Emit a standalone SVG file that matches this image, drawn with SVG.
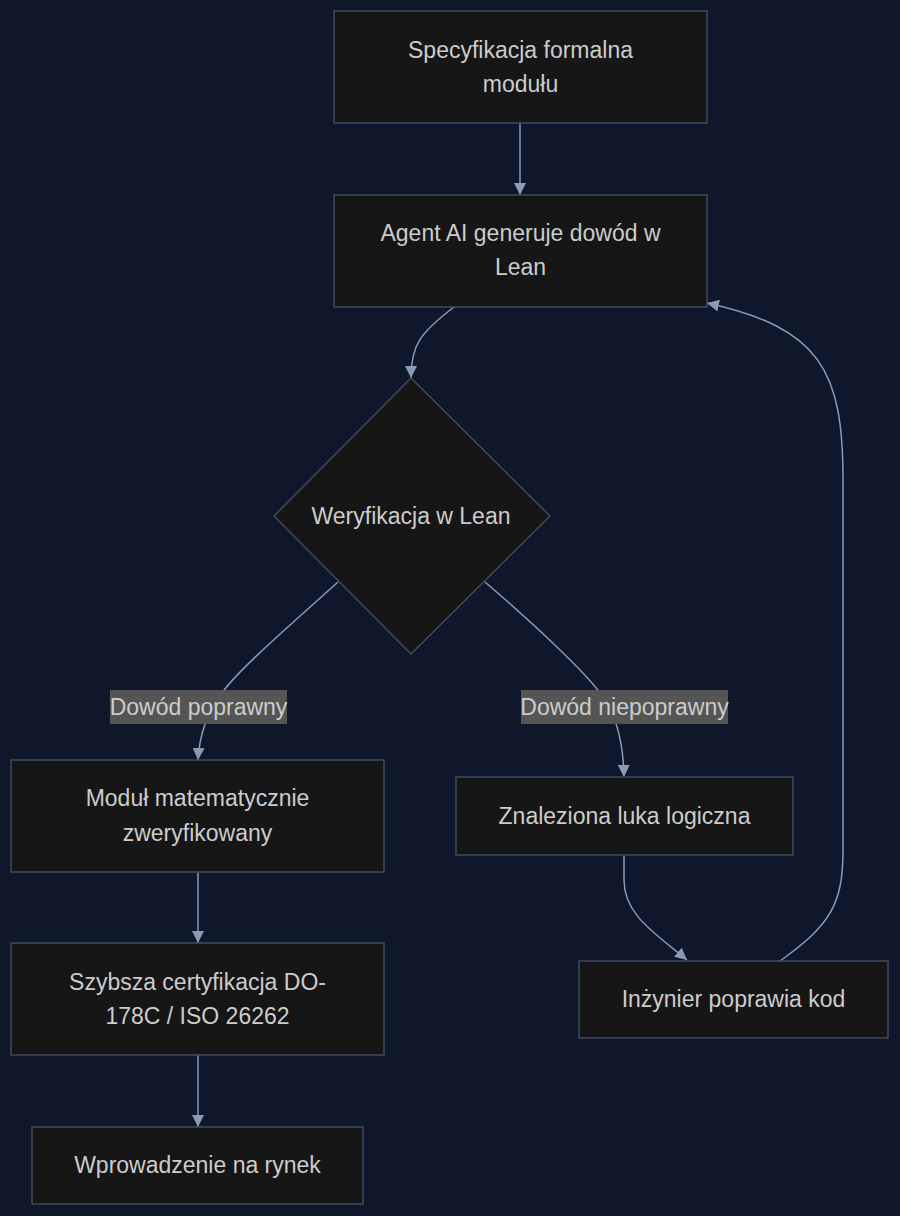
<svg xmlns="http://www.w3.org/2000/svg" width="900" height="1216" viewBox="0 0 900 1216">
<style>
.node rect, .node polygon { fill: #161616; stroke: #3e4b5e; stroke-width: 1.5; }
.node text, .elabel text { font-family: "Liberation Sans", Arial, sans-serif; font-size: 23px; fill: #cccccc; text-anchor: middle; dominant-baseline: central; }
.edges path { fill: none; stroke: #8a9bb4; stroke-width: 1.5; }
.elabel rect { fill: #555555; stroke: none; }
</style>
<defs>
<marker id="arrow" viewBox="0 0 10 10" refX="10" refY="5" markerWidth="12" markerHeight="12" markerUnits="userSpaceOnUse" orient="auto">
<path d="M0,0 L10,5 L0,10 z" fill="#8a9bb4"/>
</marker>
</defs>
<rect width="900" height="1216" fill="#0f172a"/>
<g class="edges">
<path d="M520,123 L520,195" marker-end="url(#arrow)"/>
<path d="M454,307 C420,333 411,345 411,378" marker-end="url(#arrow)"/>
<path d="M338,582 C290,625 236,672 222,693 Q200,722 198,760" marker-end="url(#arrow)"/>
<path d="M485,582 C535,625 585,672 600,693 Q623,722 624,777" marker-end="url(#arrow)"/>
<path d="M198,872 L198,943" marker-end="url(#arrow)"/>
<path d="M198,1055 L198,1127" marker-end="url(#arrow)"/>
<path d="M624,855 L624,880 C624,915 655,933 687,960" marker-end="url(#arrow)"/>
<path d="M780,961 C830,925 843,905 843,850 L843,480 C843,370 820,328 707,303" marker-end="url(#arrow)"/>
</g>
<g id="label-ok" class="elabel">
<rect x="110" y="690" width="177" height="34"/>
<text x="198.5" y="707">Dowód poprawny</text>
</g>
<g id="label-bad" class="elabel">
<rect x="521" y="690" width="207" height="34"/>
<text x="624.5" y="707">Dowód niepoprawny</text>
</g>
<g id="n1" class="node">
<rect x="334" y="11" width="373" height="112"/>
<text x="520.5" y="50">Specyfikacja formalna</text>
<text x="520.5" y="84">modułu</text>
</g>
<g id="n2" class="node">
<rect x="334" y="195" width="373" height="112"/>
<text x="520.5" y="233">Agent AI generuje dowód w</text>
<text x="520.5" y="267">Lean</text>
</g>
<g id="n3" class="node">
<polygon points="411,378 550,516 411,654 274,516"/>
<text x="411" y="516">Weryfikacja w Lean</text>
</g>
<g id="n4" class="node">
<rect x="11" y="760" width="373" height="112"/>
<text x="197.5" y="798">Moduł matematycznie</text>
<text x="197.5" y="833">zweryfikowany</text>
</g>
<g id="n5" class="node">
<rect x="456" y="777" width="337" height="78"/>
<text x="624.5" y="816">Znaleziona luka logiczna</text>
</g>
<g id="n6" class="node">
<rect x="11" y="943" width="373" height="112"/>
<text x="197.5" y="982">Szybsza certyfikacja DO-</text>
<text x="197.5" y="1016">178C / ISO 26262</text>
</g>
<g id="n7" class="node">
<rect x="579" y="961" width="309" height="77"/>
<text x="733.5" y="999">Inżynier poprawia kod</text>
</g>
<g id="n8" class="node">
<rect x="32" y="1127" width="331" height="77"/>
<text x="197.5" y="1165">Wprowadzenie na rynek</text>
</g>
</svg>
